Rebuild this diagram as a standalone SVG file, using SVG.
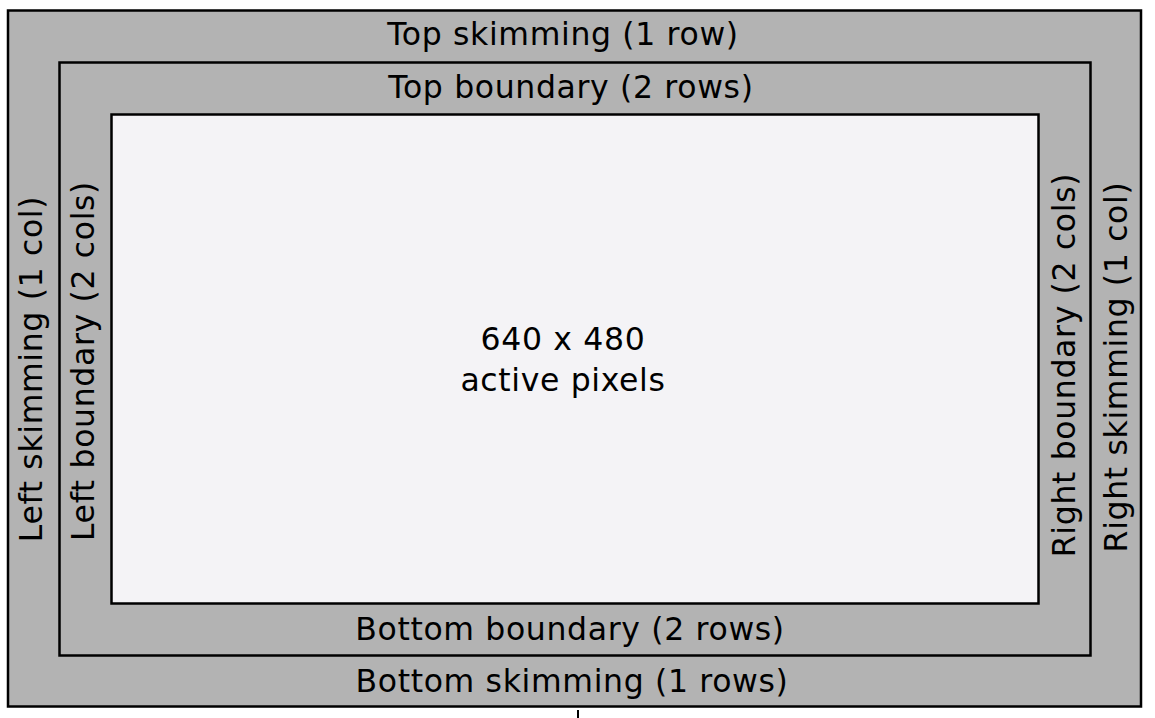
<svg xmlns="http://www.w3.org/2000/svg" width="1155" height="718" viewBox="0 0 1155 718">
<style>
.r{fill:#b3b3b3;stroke:#000;stroke-width:2.5}
.a{fill:#f4f3f6;stroke:#000;stroke-width:2.5}
text{font-family:"DejaVu Sans",sans-serif;font-size:31.5px;letter-spacing:0.65px;fill:#000;text-anchor:middle}
</style>
<rect width="1155" height="718" fill="#fff"/>
<g id="skimming">
<rect class="r" x="8" y="10.5" width="1133" height="696"/>
<text x="563" y="45">Top skimming (1 row)</text>
<text x="572" y="692">Bottom skimming (1 rows)</text>
<text transform="translate(42,369) rotate(-90)">Left skimming (1 col)</text>
<text transform="translate(1127,367) rotate(-90)">Right skimming (1 col)</text>
</g>
<g id="boundary">
<rect class="r" x="59.5" y="62.5" width="1031" height="593"/>
<text x="571" y="98">Top boundary (2 rows)</text>
<text x="570" y="640">Bottom boundary (2 rows)</text>
<text transform="translate(94,361) rotate(-90)">Left boundary (2 cols)</text>
<text transform="translate(1075,365) rotate(-90)">Right boundary (2 cols)</text>
</g>
<g id="active">
<rect class="a" x="111.5" y="114.5" width="927" height="489"/>
<text x="563" y="350">640 x 480</text>
<text x="563" y="391">active pixels</text>
</g>
<line x1="578" y1="710" x2="578" y2="718" stroke="#000" stroke-width="2"/>
</svg>
